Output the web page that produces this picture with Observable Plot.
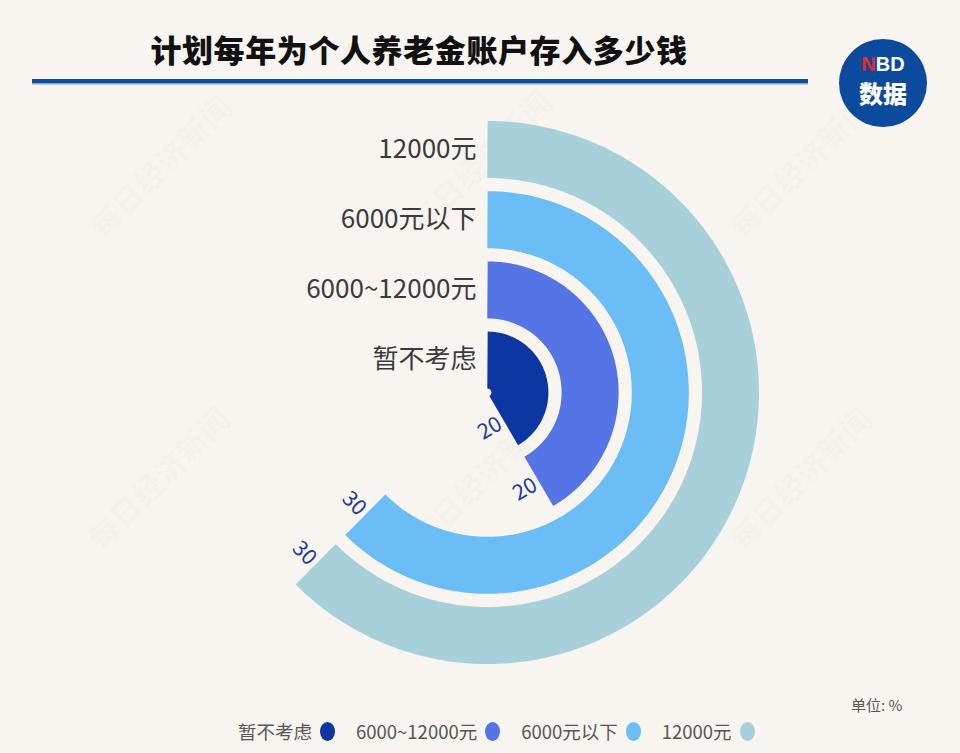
<!DOCTYPE html>
<html>
<head>
<meta charset="utf-8">
<script src="https://cdn.jsdelivr.net/npm/d3@7"></script>
<script src="https://cdn.jsdelivr.net/npm/@observablehq/plot@0.6"></script>
<style>
  html, body { margin: 0; padding: 0; background: #f8f5f0; }
  body { font-family: "Noto Sans CJK SC", "Noto Sans", sans-serif; }
  #wrap { position: relative; width: 960px; height: 753px; overflow: hidden; background: #f8f5f0; }
  .wm { position: absolute; width: 240px; text-align: center; font-size: 30px; font-weight: 700;
        color: rgba(120, 110, 100, 0.05); transform: translate(-50%, -50%) rotate(-45deg);
        white-space: nowrap; letter-spacing: 1px; }
  #title { position: absolute; left: 0; top: 29px; width: 838px; text-align: center; font-size: 31px;
           font-weight: 900; color: #111; line-height: 40px; letter-spacing: 0.6px; }
  #rule { position: absolute; left: 32px; top: 79px; width: 776px; height: 4px; background: #0c4a9c;
          box-shadow: 0 1.5px 0 #86a4d4; }
  #logo { position: absolute; left: 839px; top: 39px; width: 88px; height: 88px; border-radius: 50%;
          background: #0b4a9c; color: #fff; text-align: center; font-family: "Liberation Sans", Arial, sans-serif; }
  #logo .nbd { position: absolute; left: 0; width: 88px; top: 14px; height: 22px; font-size: 20px; font-weight: 700;
               line-height: 22px; white-space: nowrap; }
  #logo .sj { position: absolute; left: 0; width: 88px; top: 41px; font-size: 24px; font-weight: 900; line-height: 26px;
              font-family: "Noto Sans CJK SC", sans-serif; }
  #chart { position: absolute; left: 0; top: 0; }
  #unit { position: absolute; left: 851px; top: 695px; font-size: 15px; color: #555; line-height: 20px; }
  #legend { position: absolute; left: 238px; top: 718px; display: flex; align-items: center; font-size: 18.5px;
            color: #555; line-height: 26px; }
  #legend .item { display: flex; align-items: center; margin-right: 21px; }
  #legend .sw { display: inline-block; width: 15px; height: 19px; border-radius: 50%; margin-left: 8px; }
</style>
</head>
<body>
<div id="wrap">
  <div class="wm" style="left:160px; top:165px;">每日经济新闻</div>
  <div class="wm" style="left:480px; top:160px;">每日经济新闻</div>
  <div class="wm" style="left:800px; top:165px;">每日经济新闻</div>
  <div class="wm" style="left:158px; top:477px;">每日经济新闻</div>
  <div class="wm" style="left:480px; top:477px;">每日经济新闻</div>
  <div class="wm" style="left:800px; top:477px;">每日经济新闻</div>
  <div id="chart"></div>
  <div id="title">计划每年为个人养老金账户存入多少钱</div>
  <div id="rule"></div>
  <div id="logo"><div class="nbd"><span style="color:#e8262d">N</span>BD</div><div class="sj">数据</div></div>
  <div id="unit">单位: %</div>
  <div id="legend"></div>
</div>
<script>
// ---- data ----
const categories = ["暂不考虑", "6000~12000元", "6000元以下", "12000元"];
const values = [20, 20, 30, 30];
const colors = ["#0c36a1", "#5574e5", "#6abdf5", "#a7d0db"];
const angleMax = 48;          // value that corresponds to a full circle
const valueLabels = ["20", "20", "30", "30"];

// ---- layout ----
const cx = 487, cy = 392;     // polar centre in px
const pxPerDeg = 3;           // px per degree of colatitude
const band0 = 32.4, bandStep = 70.2, bandWidth = 57;

// polar "projection": north pole at centre, longitude = angle, colatitude = radius
const projection = d3.geoAzimuthalEquidistant()
  .rotate([0, -90])
  .translate([cx, cy])
  .scale(pxPerDeg * 180 / Math.PI);

const radiusPx = i => band0 + i * bandStep;
const latOf = i => 90 - radiusPx(i) / pxPerDeg;
const lonOf = v => 180 - v / angleMax * 360;

// resample each bar's arc so the thick stroke follows its circle
const arcPts = [];
categories.forEach((c, i) => {
  const n = Math.ceil(values[i] / 0.1);
  for (let k = 0; k <= n; k++) {
    const v = values[i] * k / n;
    arcPts.push({cat: c, lon: lonOf(v), lat: latOf(i)});
  }
});

const rows = categories.map((c, i) => {
  const endDeg = values[i] / angleMax * 360;
  const gapDeg = 4 / radiusPx(i) * 180 / Math.PI;
  return {
    cat: c, i, label: valueLabels[i],
    lat: latOf(i),
    labLon: 180 - (endDeg + gapDeg),
    rot: endDeg - 180
  };
});

const chart = Plot.plot({
  width: 960,
  height: 753,
  margin: 0,
  projection,
  style: {background: "transparent", overflow: "visible"},
  color: {domain: categories, range: colors},
  marks: [
    Plot.line(arcPts, {
      x: "lon", y: "lat", z: "cat", stroke: "cat",
      strokeWidth: bandWidth, strokeLinecap: "butt", strokeLinejoin: "round"
    }),
    Plot.text(rows, {
      x: () => 180, y: "lat", text: "cat",
      textAnchor: "end", dx: -11, fontSize: 26, fill: "#3b3b3b",
      fontFamily: "Noto Sans CJK SC, sans-serif"
    }),
    Plot.text(rows, {
      x: "labLon", y: "lat", text: "label", rotate: "rot",
      textAnchor: "end", fontSize: 21.5, fill: "#1c3f9e",
      fontFamily: "Noto Sans CJK SC, sans-serif"
    })
  ]
});
document.getElementById("chart").appendChild(chart);

// legend
const legend = document.getElementById("legend");
categories.forEach((c, i) => {
  const item = document.createElement("div");
  item.className = "item";
  const t = document.createElement("span");
  t.textContent = c;
  const sw = document.createElement("span");
  sw.className = "sw";
  sw.style.background = colors[i];
  item.appendChild(t);
  item.appendChild(sw);
  legend.appendChild(item);
});
</script>
</body>
</html>
